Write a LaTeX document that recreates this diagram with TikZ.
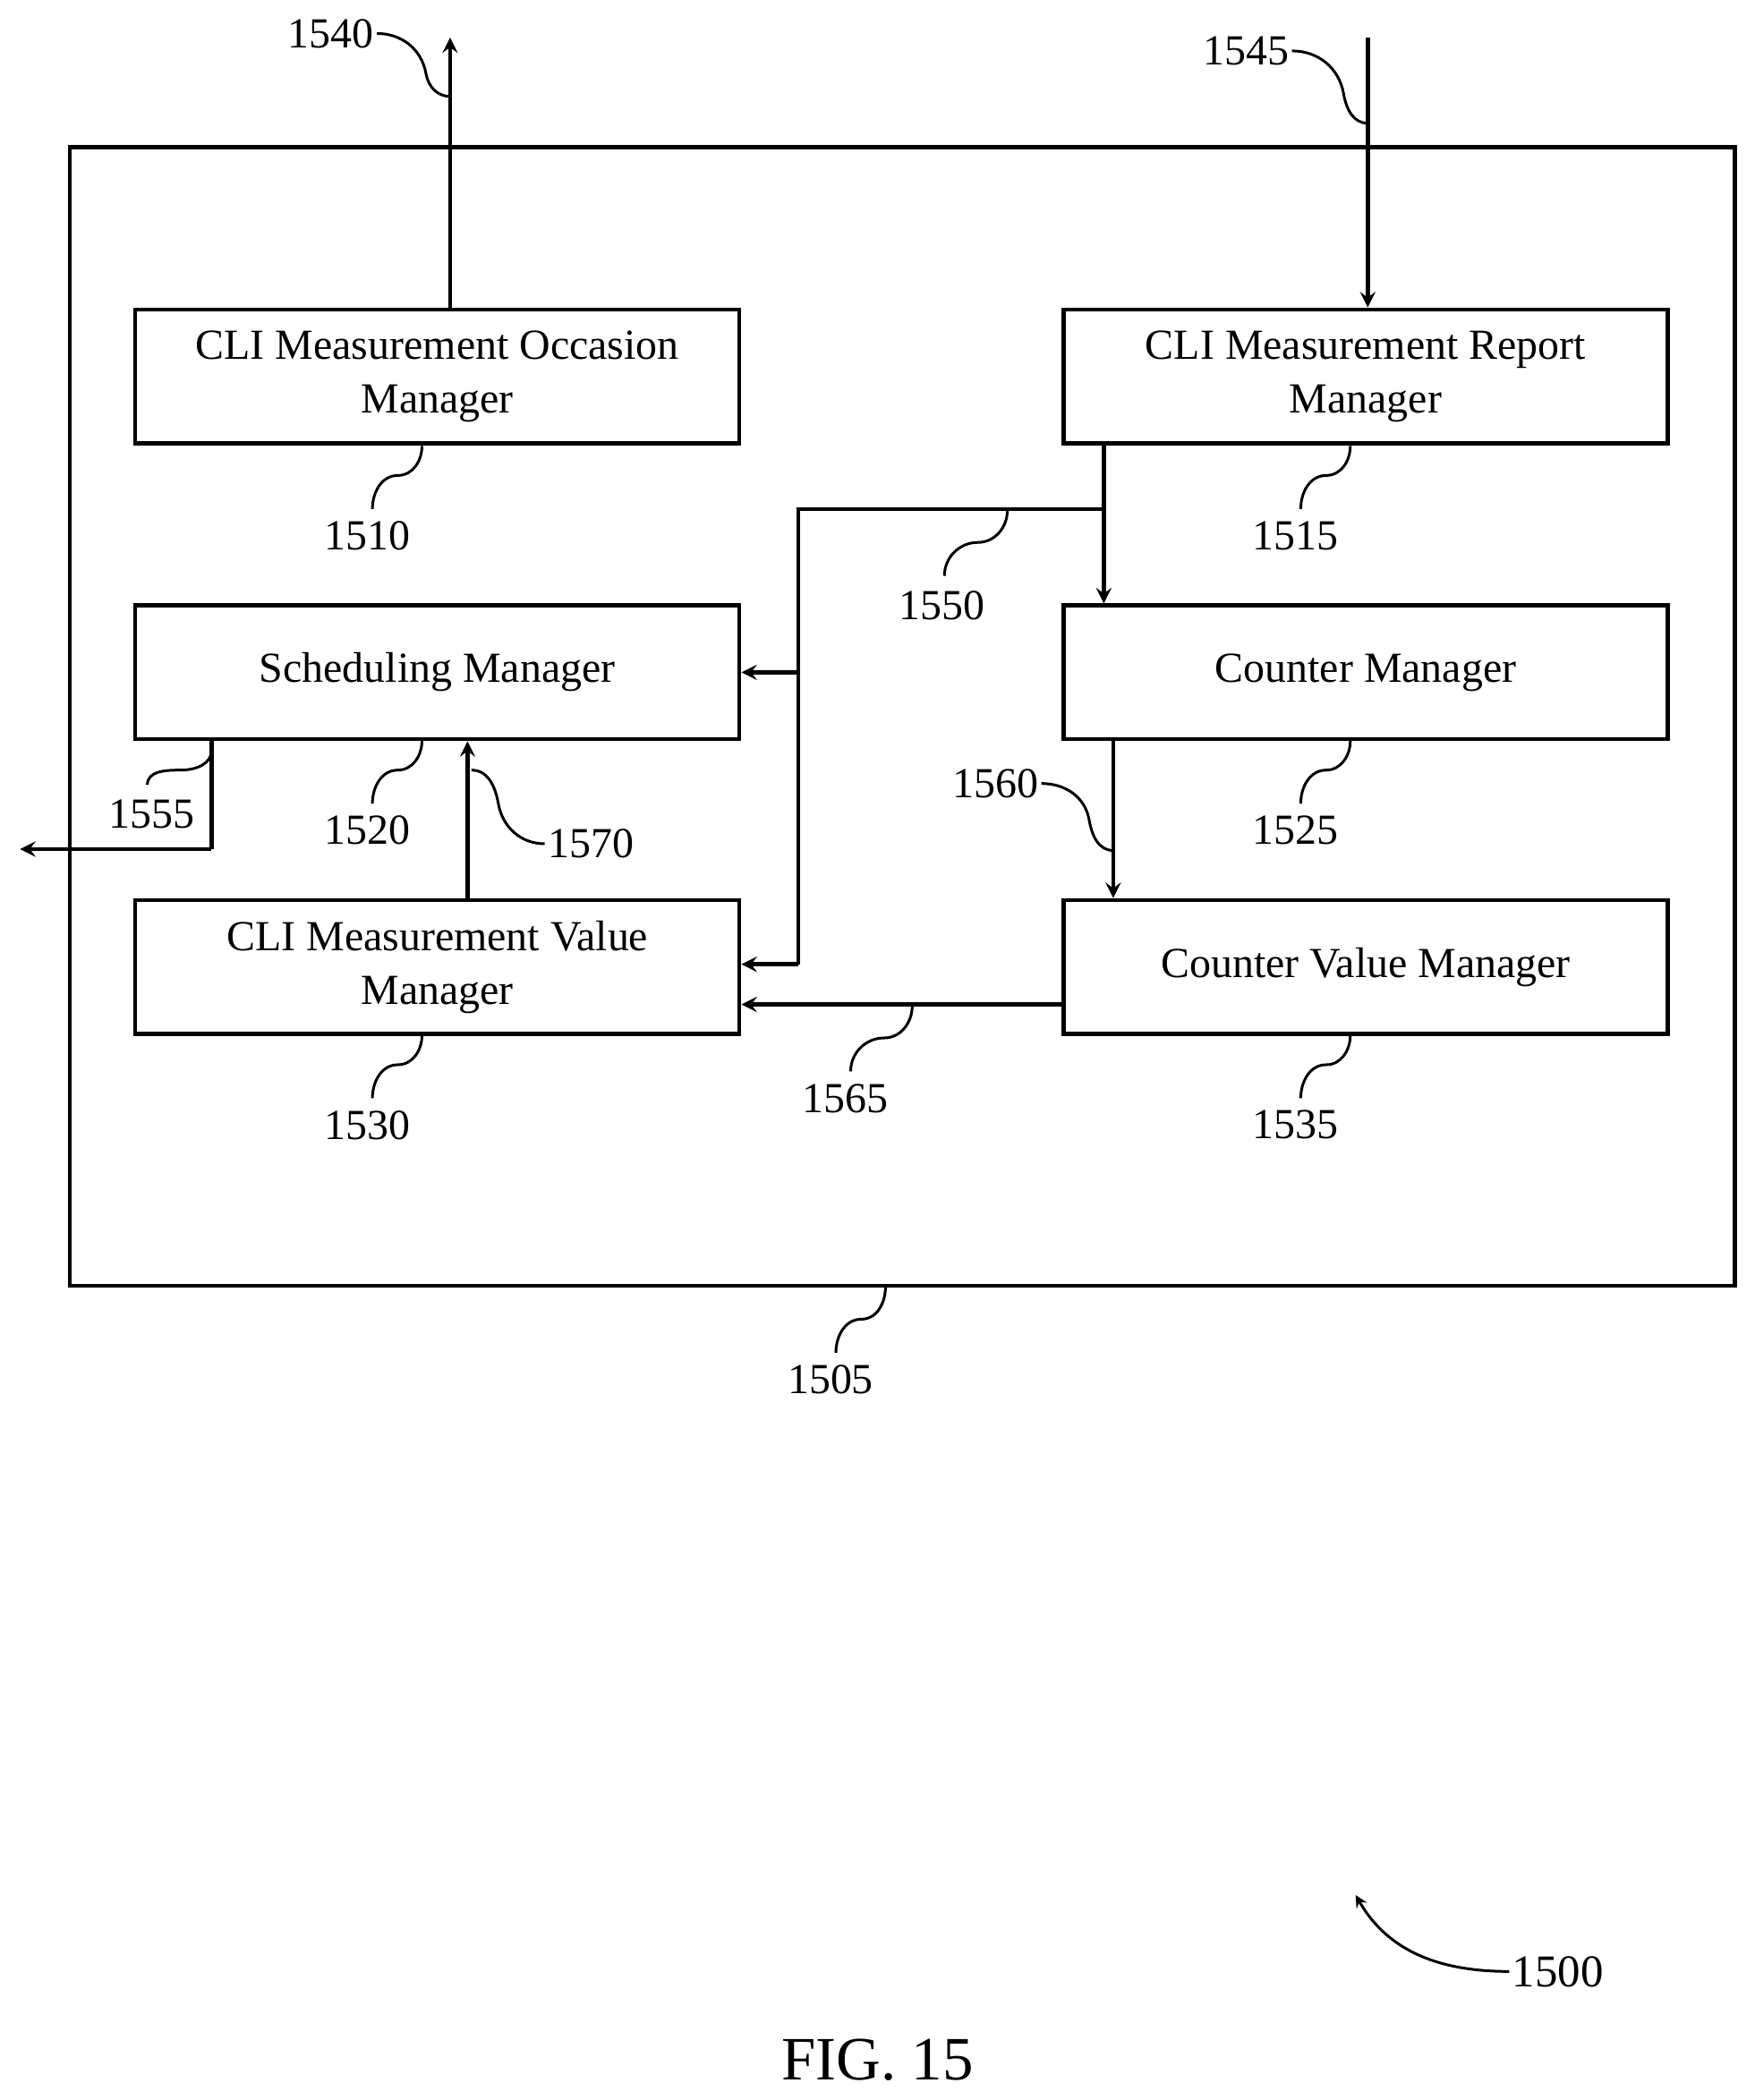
\documentclass[tikz,border=0pt]{standalone}
\usepackage{fontspec}
\setmainfont{Liberation Serif}
\begin{document}
\begin{tikzpicture}[x=0.5pt,y=-0.5pt,
  box/.style={draw,line width=1.5pt,minimum width=225.5pt,minimum height=50pt,align=center,font=\fontsize{16}{20}\selectfont,inner sep=0pt},
  num/.style={font=\fontsize{16}{18}\selectfont,inner sep=1pt},
  ln/.style={line width=1.5pt},
  ar/.style={line width=1.5pt,-stealth},
  ld/.style={line width=1pt}]
\useasboundingbox (0,0) rectangle (1310,1568);
\node[draw,line width=1.5pt,minimum width=621.5pt,minimum height=425pt,inner sep=0pt] (outer) at (673.5,535) {};
\node[box] (occ) at (326.5,281) {CLI Measurement Occasion\\Manager};
\node[box] (rep) at (1019.5,281) {CLI Measurement Report\\Manager};
\node[box] (sch) at (326.5,502) {Scheduling Manager};
\node[box] (cnt) at (1019.5,502) {Counter Manager};
\node[box] (val) at (326.5,722) {CLI Measurement Value\\Manager};
\node[box] (cvm) at (1019.5,722) {Counter Value Manager};
% external arrows
\coordinate (o1540) at (336,28);
\draw[ar] (occ.north -| o1540) -- (o1540);
\coordinate (i1545) at (1021,28);
\draw[ar] (i1545) -- (rep.north -| i1545);
\coordinate (b1) at (824,380);
\coordinate (b2) at (596,380);
\coordinate (b3) at (596,720);
\draw[ar] (rep.south -| b1) -- (cnt.north -| b1);
\draw[ln] (b1) -- (b2) -- (b3);
\draw[ar] (b2 |- sch.east) -- (sch.east);
\draw[ar] (b3) -- (b3 -| val.east);
\coordinate (c1) at (831,552);
\draw[ar] (cnt.south -| c1) -- (cvm.north -| c1);
\coordinate (d1) at (794,750);
\draw[ar] (d1) -- (d1 -| val.east);
\coordinate (e1) at (349,672);
\draw[ar] (val.north -| e1) -- (sch.south -| e1);
\coordinate (f1) at (158,634);
\coordinate (f2) at (15,634);
\draw[ln] (sch.south -| f1) -- (f1);
\draw[ar] (f1) -- (f2);
% labels
\node[num] (n1540) at (247,25) {1540};
\node[num] (n1545) at (930,38) {1545};
\node[num] (n1510) at (274,400) {1510};
\node[num] (n1515) at (967,400) {1515};
\node[num] (n1520) at (274,620) {1520};
\node[num] (n1525) at (967,620) {1525};
\node[num] (n1530) at (274,840) {1530};
\node[num] (n1535) at (967,840) {1535};
\node[num] (n1550) at (703,452) {1550};
\node[num] (n1560) at (743,585) {1560};
\node[num] (n1565) at (631,820) {1565};
\node[num] (n1570) at (441,630) {1570};
\node[num] (n1555) at (113,608) {1555};
\node[num] (n1505) at (620,1030) {1505};
\node[num,font=\fontsize{17}{19}\selectfont] (n1500) at (1163,1472) {1500};
\node[font=\fontsize{23}{26}\selectfont] (fig) at (655,1538) {FIG. 15};
% leaders
\draw[ld] (n1540.east) to[out=0,in=100] (318,55) to[out=-80,in=180] (336,72);
\draw[ld] (n1545.east) to[out=0,in=100] (1003,70) to[out=-80,in=180] (1021,92);
\draw[ld] (278,380) to[out=90,in=180] (297,355) to[out=0,in=-90] (315,333);
\draw[ld] (971,380) to[out=90,in=180] (990,355) to[out=0,in=-90] (1008,333);
\draw[ld] (278,600) to[out=90,in=180] (297,575) to[out=0,in=-90] (315,553);
\draw[ld] (971,600) to[out=90,in=180] (990,575) to[out=0,in=-90] (1008,553);
\draw[ld] (278,820) to[out=90,in=180] (297,795) to[out=0,in=-90] (315,773);
\draw[ld] (971,820) to[out=90,in=180] (990,795) to[out=0,in=-90] (1008,773);
\draw[ld] (624,1010) to[out=90,in=180] (643,985) to[out=0,in=-90] (661,961);
\draw[ld] (705,430) to[out=90,in=180] (730,405) to[out=0,in=-90] (752,381);
\draw[ld] (635,800) to[out=90,in=180] (660,775) to[out=0,in=-90] (681,751);
\draw[ld] (n1560.east) to[out=0,in=100] (813,612) to[out=-80,in=180] (831,635);
\draw[ld] (n1570.west) to[out=180,in=-80] (372,600) to[out=100,in=0] (352,575);
\draw[ld] (110,586) to[out=90,in=180] (135,575) to[out=0,in=-90] (158,560);
\draw[ld,-stealth] (n1500.west) to[out=180,in=-60] (1012,1415);
\end{tikzpicture}
\end{document}
